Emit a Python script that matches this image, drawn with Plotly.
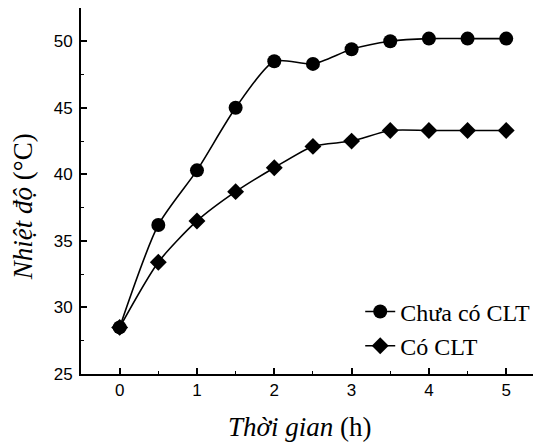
import plotly.graph_objects as go

time_h = [0, 0.5, 1, 1.5, 2, 2.5, 3, 3.5, 4, 4.5, 5]
chua_co_clt = [28.5, 36.2, 40.3, 45.0, 48.5, 48.3, 49.4, 50.0, 50.2, 50.2, 50.2]
co_clt = [28.5, 33.4, 36.5, 38.7, 40.5, 42.1, 42.5, 43.3, 43.3, 43.3, 43.3]
x_ticks = [0, 1, 2, 3, 4, 5]
y_ticks = [25, 30, 35, 40, 45, 50]

fig = go.Figure()
fig.add_trace(go.Scatter(
    x=time_h, y=chua_co_clt, name="Chưa có CLT", mode="lines+markers",
    legendgroup="a",
    line=dict(color="black", width=1.6, shape="spline", smoothing=0.7),
    marker=dict(symbol="circle", size=14, color="black"),
))
fig.add_trace(go.Scatter(
    x=time_h, y=co_clt, name="Có CLT", mode="lines+markers",
    legendgroup="b",
    line=dict(color="black", width=1.6, shape="spline", smoothing=0.7),
    marker=dict(symbol="diamond", size=13, color="black"),
))

# page body has an 8px default margin; size the figure to fill the 541x443 view
fig.update_layout(
    width=533, height=435,
    margin=dict(l=73, r=0, t=0, b=69, autoexpand=False),
    paper_bgcolor="white", plot_bgcolor="white",
    showlegend=True,
    legend=dict(
        x=0.607, xanchor="left", y=0.231, yanchor="top",
        font=dict(family="Liberation Serif", size=24, color="black"),
        bgcolor="rgba(0,0,0,0)", tracegroupgap=0,
    ),
    xaxis=dict(
        range=[-0.5, 5.45], tickvals=x_ticks, ticktext=[str(v) for v in x_ticks],
        showgrid=False, zeroline=False,
        showline=True, linecolor="black", linewidth=2, mirror=True,
        ticks="inside", ticklen=6, tickwidth=1.5, tickcolor="black",
        minor=dict(dtick=0.5, ticks="inside", ticklen=3, tickcolor="black", tickwidth=1),
        tickfont=dict(family="Liberation Sans", size=17, color="black"),
    ),
    yaxis=dict(
        range=[25, 52.5], tickvals=y_ticks, ticktext=[str(v) for v in y_ticks],
        showgrid=False, zeroline=False,
        showline=True, linecolor="black", linewidth=2, mirror=False,
        ticks="inside", ticklen=6, tickwidth=1.5, tickcolor="black",
        minor=dict(dtick=2.5, ticks="inside", ticklen=3, tickcolor="black", tickwidth=1),
        tickfont=dict(family="Liberation Sans", size=17, color="black"),
        ticklabelstandoff=3,
    ),
    annotations=[
        dict(text="<i>Thời gian</i> (h)", xref="paper", yref="paper",
             x=0.476, y=-0.145, xanchor="center", yanchor="middle", showarrow=False,
             font=dict(family="Liberation Serif", size=27, color="black")),
        dict(text="<i>Nhiệt độ</i> (°C)", xref="paper", yref="paper", textangle=-90,
             x=-0.126, y=0.456, xanchor="center", yanchor="middle", showarrow=False,
             font=dict(family="Liberation Serif", size=27, color="black")),
    ],
)

fig.write_html("out.html")
